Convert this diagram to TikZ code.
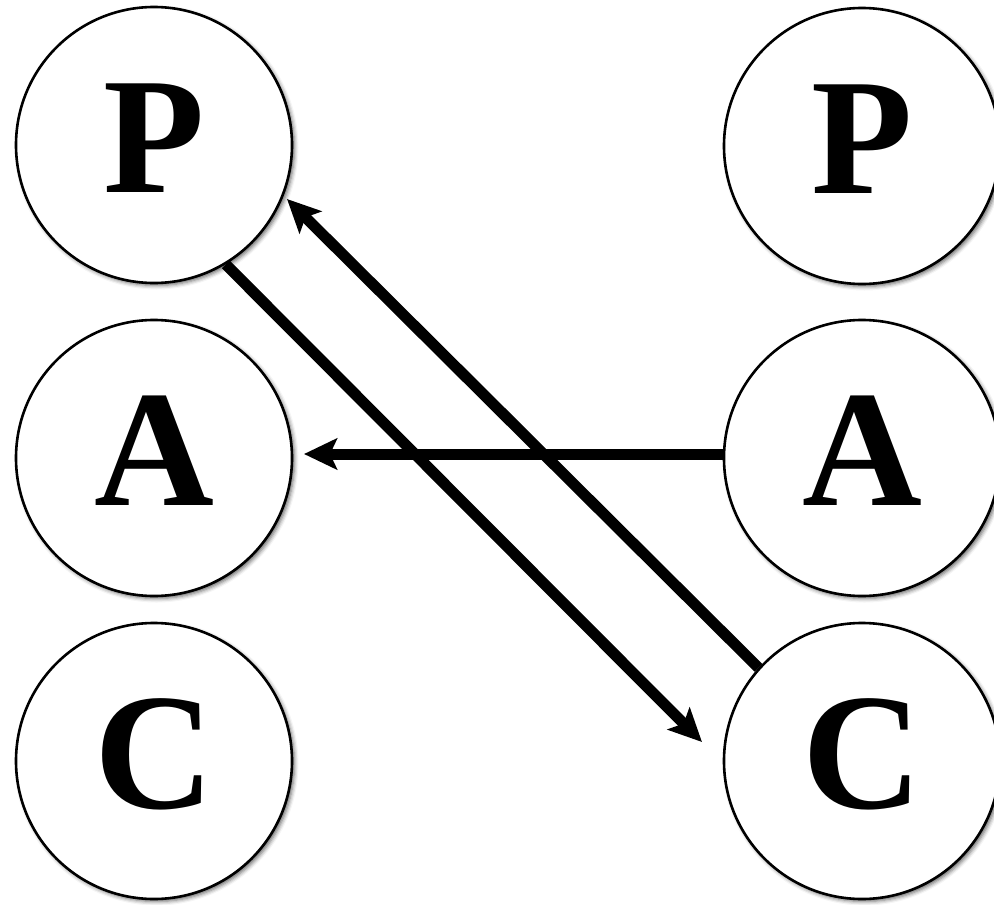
\documentclass[tikz,border=0pt]{standalone}
\usepackage{fontspec}
\setmainfont{Liberation Serif}[BoldFont={Liberation Serif Bold}]
\usetikzlibrary{arrows.meta,calc,shadows.blur}

\begin{document}
\begin{tikzpicture}[x=1pt, y=-1pt,
    etat/.style={circle, draw, line width=2.6pt, fill=white, inner sep=0pt,
      minimum size=276pt, text depth=14pt,
      font=\fontsize{166}{166}\selectfont\bfseries,
      blur shadow={shadow xshift=2.5pt, shadow yshift=-2.5pt,
        shadow blur radius=4pt, shadow opacity=60}},
    fleche/.style={line width=11pt,
      -{Stealth[length=33pt, width=31pt, inset=7pt]}}]

  % Cadre
  \clip (0,0) rectangle (994,905);

  % Colonne de gauche
  \node[etat] (P1) at (154,145) {P};
  \node[etat] (A1) at (154,458) {A};
  \node[etat] (C1) at (154,761) {C};

  % Colonne de droite
  \node[etat] (P2) at (862,146) {P};
  \node[etat] (A2) at (862,458) {A};
  \node[etat] (C2) at (862,761) {C};

  % Pointes des flèches
  \coordinate (tC) at ($(C2)+(-160,-19)$);
  \coordinate (tP) at ($(P1)+(133,54)$);
  \coordinate (dA) at ($(A2.west)+(0,-4)$);
  \coordinate (tA) at ($(A1)+(150,-4)$);

  % Flèches
  \draw[fleche] (P1.-59) -- (tC);
  \draw[fleche] (C2.138) -- (tP);
  \draw[fleche] (dA) -- (tA);

\end{tikzpicture}
\end{document}
